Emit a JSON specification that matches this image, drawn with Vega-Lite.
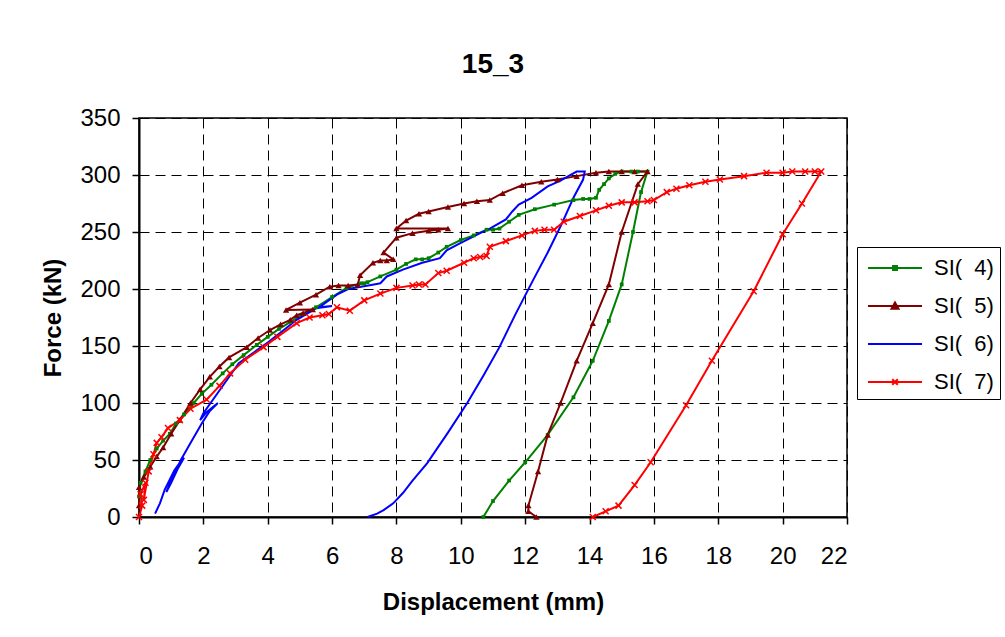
{
  "$schema": "https://vega.github.io/schema/vega-lite/v6.json",
  "width": 708,
  "height": 399,
  "autosize": {"type": "none"},
  "padding": {"left": 139, "top": 118, "right": 158, "bottom": 120},
  "background": "white",
  "title": {"text": "15_3", "fontSize": 28, "fontWeight": "bold", "font": "Liberation Sans", "anchor": "middle", "offset": 5, "baseline": "alphabetic", "color": "black"},
  "config": {
    "font": "Liberation Sans",
    "view": {"stroke": "black", "strokeWidth": 1.5},
    "axis": {
      "grid": true, "gridColor": "black", "gridDash": [10, 6], "gridWidth": 1, "gridOpacity": 1,
      "domainColor": "black", "domainWidth": 2,
      "tickColor": "black", "tickSize": 7, "tickWidth": 1.5,
      "labelColor": "black", "labelFontSize": 24, "labelFont": "Liberation Sans",
      "titleColor": "black", "titleFontSize": 24, "titleFontWeight": "bold", "titleFont": "Liberation Sans"
    }
  },
  "data": {"values": [
    {"s":"4","x":0,"y":18},{"s":"4","x":0.05,"y":30},{"s":"4","x":0.2,"y":40},{"s":"4","x":0.35,"y":50},{"s":"4","x":0.55,"y":60},{"s":"4","x":0.75,"y":67},{"s":"4","x":0.96,"y":73},{"s":"4","x":1.15,"y":82},{"s":"4","x":1.4,"y":90},{"s":"4","x":1.7,"y":100},{"s":"4","x":1.95,"y":108},{"s":"4","x":2.25,"y":116},{"s":"4","x":2.6,"y":126},{"s":"4","x":2.9,"y":134},{"s":"4","x":3.25,"y":142},{"s":"4","x":3.66,"y":151},{"s":"4","x":4.0,"y":158},{"s":"4","x":4.35,"y":165},{"s":"4","x":4.7,"y":171},{"s":"4","x":5.1,"y":178},{"s":"4","x":5.5,"y":184},{"s":"4","x":6.0,"y":193},{"s":"4","x":6.45,"y":201},{"s":"4","x":6.9,"y":205},{"s":"4","x":7.0,"y":205},{"s":"4","x":7.1,"y":206},{"s":"4","x":7.5,"y":211},{"s":"4","x":8.0,"y":217},{"s":"4","x":8.3,"y":222},{"s":"4","x":8.6,"y":226},{"s":"4","x":8.8,"y":226},{"s":"4","x":9.0,"y":227},{"s":"4","x":9.3,"y":232},{"s":"4","x":9.56,"y":237},{"s":"4","x":10.0,"y":243},{"s":"4","x":10.4,"y":247},{"s":"4","x":10.8,"y":252},{"s":"4","x":11.0,"y":252},{"s":"4","x":11.2,"y":253},{"s":"4","x":11.5,"y":259},{"s":"4","x":11.8,"y":265},{"s":"4","x":12.3,"y":270},{"s":"4","x":12.9,"y":274},{"s":"4","x":13.5,"y":278},{"s":"4","x":13.8,"y":279},{"s":"4","x":14.0,"y":279},{"s":"4","x":14.2,"y":280},{"s":"4","x":14.3,"y":287},{"s":"4","x":14.45,"y":292},{"s":"4","x":14.6,"y":297},{"s":"4","x":14.8,"y":301},{"s":"4","x":15.0,"y":303},{"s":"4","x":15.3,"y":303},{"s":"4","x":15.5,"y":303},{"s":"4","x":15.8,"y":303},
    {"s":"4","x":15.6,"y":285},{"s":"4","x":15.35,"y":250},{"s":"4","x":15.0,"y":204},{"s":"4","x":14.6,"y":172},{"s":"4","x":14.1,"y":137},{"s":"4","x":13.5,"y":105},{"s":"4","x":12.7,"y":72},{"s":"4","x":12.0,"y":48},{"s":"4","x":11.5,"y":32},{"s":"4","x":11.0,"y":14},{"s":"4","x":10.7,"y":0},
    {"s":"5","x":0,"y":10},{"s":"5","x":0,"y":26},{"s":"5","x":0.15,"y":35},{"s":"5","x":0.35,"y":44},{"s":"5","x":0.55,"y":53},{"s":"5","x":0.75,"y":61},{"s":"5","x":1.0,"y":73},{"s":"5","x":1.27,"y":85},{"s":"5","x":1.6,"y":100},{"s":"5","x":1.9,"y":112},{"s":"5","x":2.2,"y":123},{"s":"5","x":2.5,"y":132},{"s":"5","x":2.8,"y":140},{"s":"5","x":3.35,"y":149},{"s":"5","x":3.7,"y":157},{"s":"5","x":4.07,"y":164},{"s":"5","x":4.4,"y":169},{"s":"5","x":4.7,"y":173},{"s":"5","x":4.9,"y":177},{"s":"5","x":5.1,"y":179},{"s":"5","x":5.4,"y":182},{"s":"5","x":4.57,"y":181.6},{"s":"5","x":5.0,"y":188},{"s":"5","x":5.5,"y":195},{"s":"5","x":5.93,"y":202},{"s":"5","x":6.2,"y":203},{"s":"5","x":6.5,"y":203},{"s":"5","x":6.8,"y":204},{"s":"5","x":6.87,"y":212},{"s":"5","x":7.27,"y":223},{"s":"5","x":7.5,"y":225},{"s":"5","x":7.7,"y":225},{"s":"5","x":7.9,"y":226},{"s":"5","x":7.6,"y":232},{"s":"5","x":8.0,"y":245},{"s":"5","x":8.5,"y":249},{"s":"5","x":9.0,"y":251},{"s":"5","x":9.3,"y":252},{"s":"5","x":9.6,"y":253},{"s":"5","x":8.0,"y":253},{"s":"5","x":8.3,"y":260},{"s":"5","x":8.7,"y":266},{"s":"5","x":9.0,"y":268},{"s":"5","x":9.6,"y":272},{"s":"5","x":10.1,"y":275},{"s":"5","x":10.5,"y":277},{"s":"5","x":10.9,"y":278},{"s":"5","x":11.3,"y":284},{"s":"5","x":11.9,"y":291},{"s":"5","x":12.5,"y":294},{"s":"5","x":13.0,"y":296},{"s":"5","x":13.6,"y":299},{"s":"5","x":14.2,"y":302},{"s":"5","x":14.6,"y":303},{"s":"5","x":15.0,"y":303},{"s":"5","x":15.4,"y":303},{"s":"5","x":15.8,"y":303},
    {"s":"5","x":15.5,"y":292},{"s":"5","x":15.0,"y":250},{"s":"5","x":14.6,"y":204},{"s":"5","x":14.1,"y":170},{"s":"5","x":13.6,"y":137},{"s":"5","x":13.1,"y":100},{"s":"5","x":12.7,"y":72},{"s":"5","x":12.4,"y":40},{"s":"5","x":12.1,"y":10},{"s":"5","x":12.1,"y":5},{"s":"5","x":12.35,"y":0},
    {"s":"6","x":0.5,"y":3},{"s":"6","x":0.65,"y":12},{"s":"6","x":0.8,"y":24},{"s":"6","x":1.1,"y":41},{"s":"6","x":1.33,"y":50},{"s":"6","x":1.4,"y":52},{"s":"6","x":1.2,"y":42},{"s":"6","x":1.0,"y":30},{"s":"6","x":0.85,"y":22},{"s":"6","x":1.0,"y":32},{"s":"6","x":1.3,"y":50},{"s":"6","x":1.6,"y":65},{"s":"6","x":1.95,"y":82},{"s":"6","x":2.2,"y":93},{"s":"6","x":2.45,"y":100},{"s":"6","x":2.1,"y":92},{"s":"6","x":1.9,"y":85},{"s":"6","x":2.0,"y":91},{"s":"6","x":2.5,"y":111},{"s":"6","x":3.1,"y":135},{"s":"6","x":3.5,"y":143},{"s":"6","x":4.0,"y":153},{"s":"6","x":4.5,"y":164},{"s":"6","x":4.9,"y":173},{"s":"6","x":5.5,"y":183},{"s":"6","x":6.0,"y":185},{"s":"6","x":5.6,"y":184},{"s":"6","x":6.15,"y":195},{"s":"6","x":6.5,"y":200},{"s":"6","x":6.9,"y":202},{"s":"6","x":7.3,"y":204},{"s":"6","x":7.5,"y":205},{"s":"6","x":7.7,"y":211},{"s":"6","x":8.2,"y":217},{"s":"6","x":8.8,"y":223},{"s":"6","x":9.35,"y":227},{"s":"6","x":9.56,"y":234},{"s":"6","x":9.97,"y":240},{"s":"6","x":10.6,"y":249},{"s":"6","x":10.9,"y":253},{"s":"6","x":11.4,"y":261},{"s":"6","x":11.6,"y":268},{"s":"6","x":11.8,"y":274},{"s":"6","x":12.2,"y":280},{"s":"6","x":12.7,"y":290},{"s":"6","x":13.1,"y":295},{"s":"6","x":13.4,"y":300},{"s":"6","x":13.6,"y":303},{"s":"6","x":13.85,"y":303},
    {"s":"6","x":13.8,"y":296},{"s":"6","x":13.5,"y":280},{"s":"6","x":13.1,"y":255},{"s":"6","x":12.7,"y":232},{"s":"6","x":12.25,"y":208},{"s":"6","x":11.7,"y":178},{"s":"6","x":11.2,"y":149},{"s":"6","x":10.7,"y":124},{"s":"6","x":10.2,"y":100},{"s":"6","x":9.6,"y":74},{"s":"6","x":8.95,"y":47},{"s":"6","x":8.5,"y":32},{"s":"6","x":8.2,"y":21},{"s":"6","x":7.9,"y":12},{"s":"6","x":7.6,"y":6},{"s":"6","x":7.4,"y":3},{"s":"6","x":7.1,"y":0},
    {"s":"7","x":0,"y":0},{"s":"7","x":0.1,"y":10},{"s":"7","x":0.05,"y":20},{"s":"7","x":0.2,"y":30},{"s":"7","x":0.15,"y":15},{"s":"7","x":0.3,"y":40},{"s":"7","x":0.45,"y":55},{"s":"7","x":0.55,"y":65},{"s":"7","x":0.7,"y":70},{"s":"7","x":0.9,"y":78},{"s":"7","x":1.27,"y":85},{"s":"7","x":1.6,"y":95},{"s":"7","x":2.1,"y":103},{"s":"7","x":2.5,"y":115},{"s":"7","x":2.83,"y":126},{"s":"7","x":3.3,"y":138},{"s":"7","x":3.87,"y":149},{"s":"7","x":4.3,"y":158},{"s":"7","x":4.9,"y":170},{"s":"7","x":5.3,"y":175},{"s":"7","x":5.7,"y":177},{"s":"7","x":5.9,"y":178},{"s":"7","x":6.15,"y":184},{"s":"7","x":6.55,"y":181},{"s":"7","x":7.0,"y":190},{"s":"7","x":7.5,"y":196},{"s":"7","x":8.0,"y":201},{"s":"7","x":8.5,"y":203},{"s":"7","x":8.7,"y":204},{"s":"7","x":8.9,"y":204},{"s":"7","x":9.3,"y":214},{"s":"7","x":9.56,"y":216},{"s":"7","x":10.1,"y":223},{"s":"7","x":10.4,"y":227},{"s":"7","x":10.6,"y":228},{"s":"7","x":10.8,"y":229},{"s":"7","x":10.9,"y":237},{"s":"7","x":11.4,"y":242},{"s":"7","x":11.9,"y":247},{"s":"7","x":12.3,"y":251},{"s":"7","x":12.6,"y":252},{"s":"7","x":12.9,"y":252},{"s":"7","x":13.2,"y":259},{"s":"7","x":13.7,"y":264},{"s":"7","x":14.2,"y":269},{"s":"7","x":14.6,"y":273},{"s":"7","x":15.0,"y":276},{"s":"7","x":15.4,"y":276},{"s":"7","x":15.8,"y":277},{"s":"7","x":16.0,"y":278},{"s":"7","x":16.4,"y":285},{"s":"7","x":16.7,"y":288},{"s":"7","x":17.1,"y":291},{"s":"7","x":17.6,"y":294},{"s":"7","x":18.05,"y":296},{"s":"7","x":18.8,"y":299},{"s":"7","x":19.5,"y":302},{"s":"7","x":20.0,"y":302},{"s":"7","x":20.3,"y":303},{"s":"7","x":20.7,"y":303},{"s":"7","x":21.0,"y":303},{"s":"7","x":21.2,"y":303},
    {"s":"7","x":20.6,"y":275},{"s":"7","x":20.0,"y":248},{"s":"7","x":19.1,"y":198},{"s":"7","x":17.8,"y":137},{"s":"7","x":17.0,"y":98},{"s":"7","x":15.9,"y":48},{"s":"7","x":15.4,"y":28},{"s":"7","x":14.9,"y":10},{"s":"7","x":14.5,"y":5},{"s":"7","x":14.1,"y":0}
  ]},
  "encoding": {
    "x": {"field": "x", "type": "quantitative", "scale": {"domain": [0, 22], "nice": false},
          "axis": {"values": [0,2,4,6,8,10,12,14,16,18,20,22], "title": "Displacement (mm)", "labelPadding": 20, "titlePadding": 22}},
    "y": {"field": "y", "type": "quantitative", "scale": {"domain": [0, 350], "nice": false},
          "axis": {"values": [0,50,100,150,200,250,300,350], "title": "Force (kN)", "labelPadding": 12, "titlePadding": 14}}
  },
  "layer": [
    {
      "mark": {"type": "line", "strokeWidth": 2},
      "encoding": {
        "color": {"field": "s", "type": "nominal",
          "scale": {"domain": ["4","5","6","7"], "range": ["#008000","#800000","#0000FF","#FF0000"]},
          "legend": {
            "orient": "none", "legendX": 718, "legendY": 129, "title": null,
            "strokeColor": "black", "fillColor": "white", "padding": 6,
            "symbolSize": 784, "rowPadding": 12, "symbolOffset": 17, "labelOffset": 24,
            "labelFontSize": 22, "labelColor": "black", "labelFont": "Liberation Sans",
            "labelExpr": "'SI(\u00a0 ' + datum.label + ')'",
            "encode": {"symbols": {"update": {
              "shape": {"signal": "datum.value == '4' ? 'M-1.93,0H1.93M-0.14,-0.14H0.14V0.14H-0.14Z' : datum.value == '5' ? 'M-1.93,0H1.93M-0.25,0.2L0,-0.25L0.25,0.2Z' : datum.value == '6' ? 'M-1.93,0H1.93' : 'M-1.93,0H1.93M-0.2,-0.2L0.2,0.2M-0.2,0.2L0.2,-0.2'"},
              "fill": {"scale": "color", "field": "value"},
              "stroke": {"scale": "color", "field": "value"},
              "strokeWidth": {"value": 2},
              "opacity": {"value": 1}
            }}}
          }},
        "order": {"value": null}
      }
    },
    {
      "transform": [{"filter": "datum.s == '4'"}],
      "mark": {"type": "point", "shape": "square", "filled": true, "size": 14, "color": "#008000", "opacity": 1}
    },
    {
      "transform": [{"filter": "datum.s == '5'"}],
      "mark": {"type": "point", "shape": "triangle-up", "filled": true, "size": 40, "color": "#800000", "opacity": 1}
    },
    {
      "transform": [{"filter": "datum.s == '7'"}],
      "mark": {"type": "point", "shape": "M-1,-1L1,1M-1,1L1,-1", "filled": false, "size": 36, "color": "#FF0000", "strokeWidth": 1.5, "opacity": 1}
    }
  ]
}
